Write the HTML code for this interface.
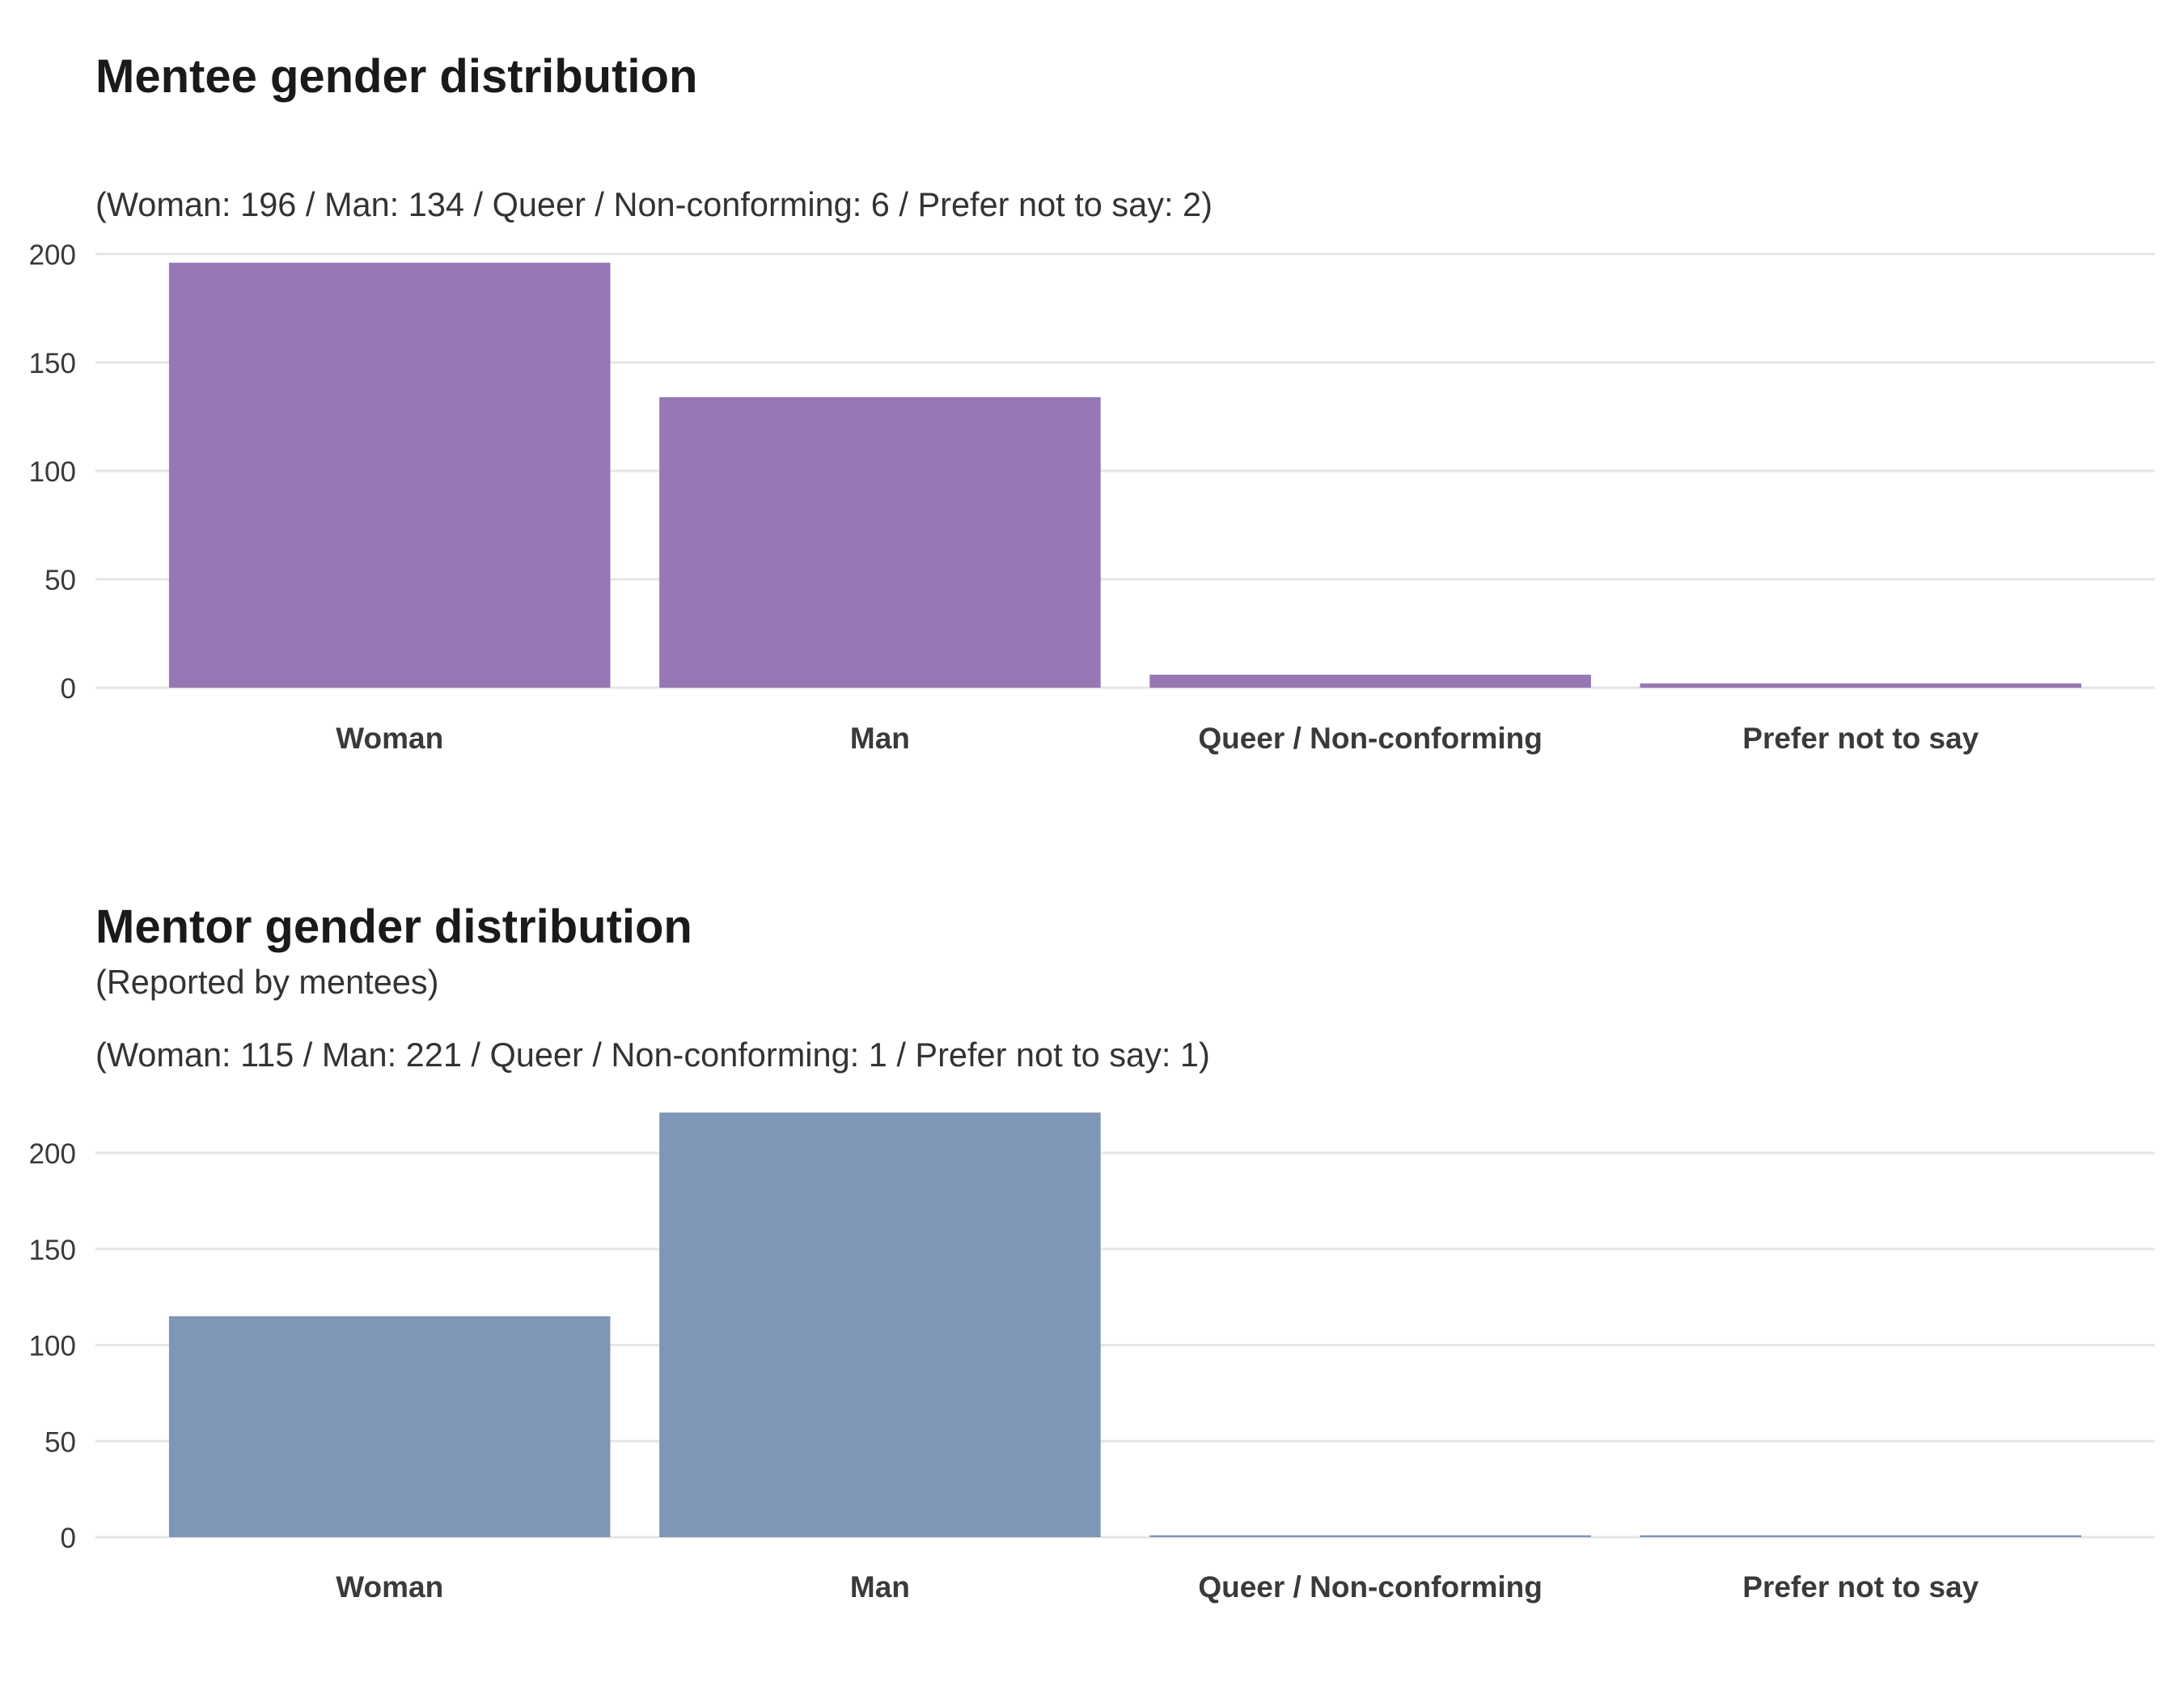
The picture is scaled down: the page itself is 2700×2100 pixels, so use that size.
<!DOCTYPE html>
<html><head><meta charset="utf-8"><style>
html,body{margin:0;padding:0;background:#fff;}
svg{display:block;font-family:"Liberation Sans",Arial,sans-serif;}
</style></head><body>
<svg id="chart" width="2700" height="2100" viewBox="0 0 2700 2100">
<text x="118" y="114" font-size="58" font-weight="bold" fill="#1a1a1a">Mentee gender distribution</text>
<text x="118" y="267" font-size="41.5" fill="#333">(Woman: 196 / Man: 134 / Queer / Non-conforming: 6 / Prefer not to say: 2)</text>
<text x="118" y="1165" font-size="58" font-weight="bold" fill="#1a1a1a">Mentor gender distribution</text>
<text x="118" y="1228" font-size="41.5" fill="#333">(Reported by mentees)</text>
<text x="118" y="1318" font-size="41.5" fill="#333">(Woman: 115 / Man: 221 / Queer / Non-conforming: 1 / Prefer not to say: 1)</text>
<g id="p1"></g>
<g id="p2"></g>
</svg>
<script>
const categories = ["Woman", "Man", "Queer / Non-conforming", "Prefer not to say"];
const menteeValues = [196, 134, 6, 2];
const mentorValues = [115, 221, 1, 1];
const yTicks = [0, 50, 100, 150, 200];

const NS = "http://www.w3.org/2000/svg";
function mk(tag, attrs, parent) {
  const e = document.createElementNS(NS, tag);
  for (const k in attrs) e.setAttribute(k, attrs[k]);
  parent.appendChild(e);
  return e;
}
function draw(gid, values, y0, pxPerUnit, color, prefix, labelY) {
  const g = document.getElementById(gid);
  const xL = 118, xR = 2664;
  const unit = (xR - xL) / 4.2;
  const xc = i => xL + unit * (0.6 + i);
  const y = v => y0 - v * pxPerUnit;
  yTicks.forEach(t => {
    const l = mk("line", {x1: xL, x2: xR, y1: y(t), y2: y(t), stroke: "#e5e5e5", "stroke-width": 3}, g);
    
    
    const tx = mk("text", {x: 94, y: y(t) + 13, "text-anchor": "end", "font-size": 35, fill: "#3a3a3a"}, g);
    tx.textContent = t;
    
    
  });
  values.forEach((v, i) => {
    const w = unit * 0.9;
    const r = mk("rect", {x: xc(i) - w / 2, y: y(v), width: w, height: v * pxPerUnit, fill: color}, g);
    
    
    const lb = mk("text", {x: xc(i), y: labelY, "text-anchor": "middle", "font-size": 37, "font-weight": "bold", fill: "#3a3a3a"}, g);
    lb.textContent = categories[i];
    
    
  });
}
draw("p1", menteeValues, 850, 134 / 50, "#9678b4", "mentee", 925);
draw("p2", mentorValues, 1900, 475 / 200, "#7f97b6", "mentor", 1974);
</script>
</body></html>
